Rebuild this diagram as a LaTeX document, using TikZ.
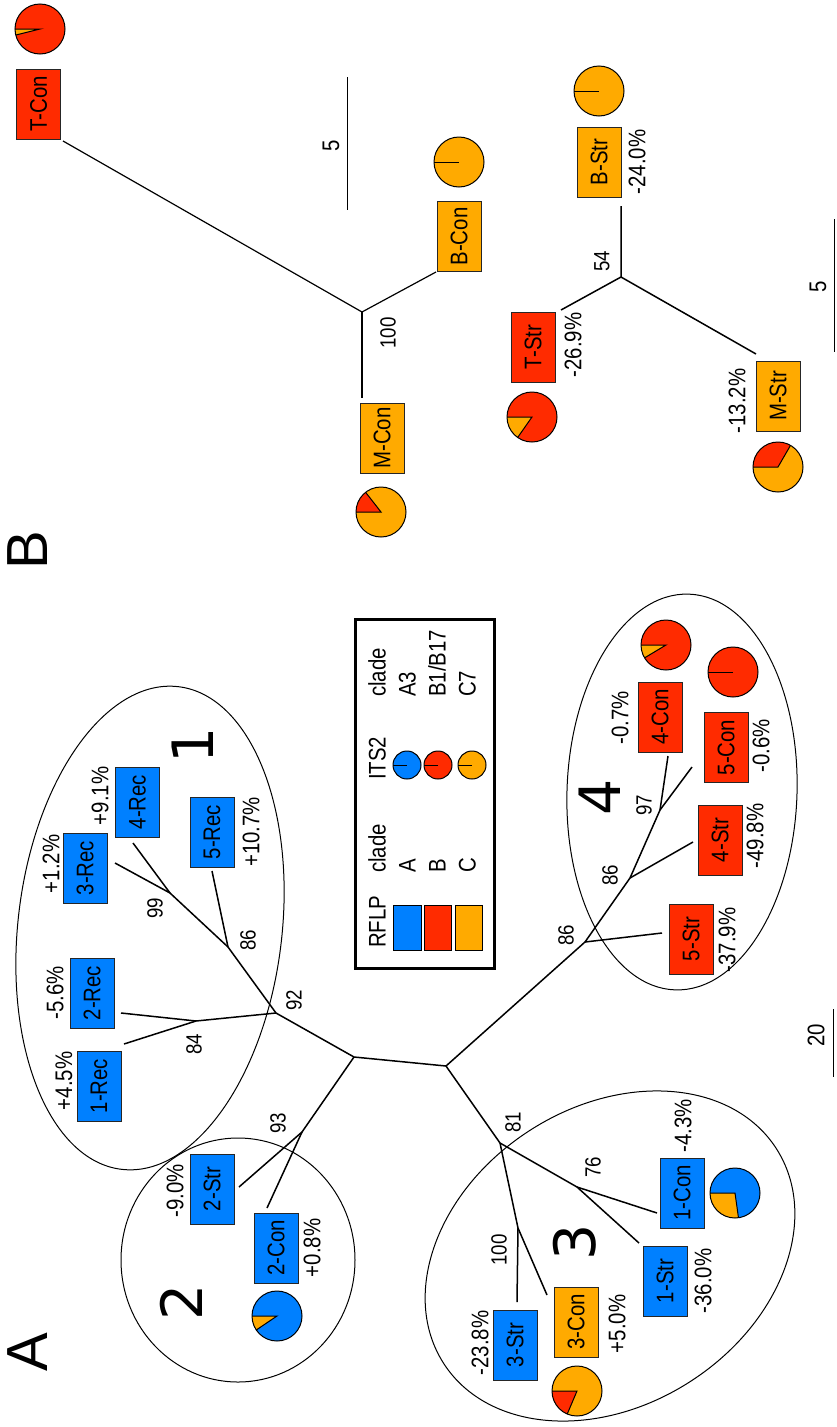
\documentclass[tikz,border=0pt]{standalone}
\usepackage{fontspec}
\setmainfont{Liberation Sans}
\newfontfamily\narrow[FakeStretch=0.85]{Liberation Sans}
\newfontfamily\bigfont{DejaVu Sans}
\definecolor{cA}{RGB}{0,128,255}
\definecolor{cB}{RGB}{255,43,0}
\definecolor{cC}{RGB}{255,170,0}
\tikzset{
  lbl/.style={rotate=90, font=\narrow\fontsize{24}{28}\selectfont, inner sep=0pt},
  boot/.style={rotate=90, font=\narrow\fontsize{22}{26}\selectfont, inner sep=0pt},
  leg/.style={rotate=90, font=\narrow\fontsize{24}{28}\selectfont, inner sep=0pt, anchor=west, text height=17pt, text depth=0pt},
  box/.style={rotate=90, draw=black!85, line width=1pt, minimum width=70pt, minimum height=44pt, inner sep=0pt, font=\narrow\fontsize{24}{28}\selectfont},
  boxA/.style={box, fill=cA},
  boxB/.style={box, fill=cB},
  boxC/.style={box, fill=cC},
  edge/.style={line width=1.5pt},
  grp/.style={line width=1pt},
  big/.style={rotate=90, font=\bigfont\fontsize{57}{60}\selectfont, inner sep=0pt},
  panel/.style={rotate=90, font=\fontsize{58}{60}\selectfont, inner sep=0pt},
}
\newcommand\piechart[5]{%
  \fill[#2] (#1) circle[radius=25pt];
  \fill[#3] (#1) -- ++(#4:25pt) arc[start angle=#4,end angle=#5,radius=25pt] -- cycle;
  \draw[line width=1pt] (#1) ++(#4:25pt) -- (#1) -- ++(#5:25pt);
  \draw[line width=1pt] (#1) circle[radius=25pt];
}
\newcommand\pieone[3]{%
  \fill[#2] (#1) circle[radius=#3];
  \draw[line width=1pt] (#1) -- ++(180:#3);
  \draw[line width=1pt] (#1) circle[radius=#3];
}
\begin{document}
\begin{tikzpicture}[x=1pt,y=-1pt]
\useasboundingbox (0,0) rectangle (836,1427);
\fill[white] (0,0) rectangle (836,1427);

% ---------------- group ellipses ----------------
\draw[grp, shift={(150,928)}, rotate=-6.7] (0,0) ellipse[x radius=132pt, y radius=243pt];
\draw[grp, shift={(238,1260)}] (0,0) ellipse[x radius=117pt, y radius=122pt];
\draw[grp, shift={(610,1256)}, rotate=33] (0,0) ellipse[x radius=198pt, y radius=149pt];
\draw[grp, shift={(682,792)}, rotate=-2] (0,0) ellipse[x radius=115pt, y radius=198pt];

% ---------------- panel A tree coordinates ----------------
\coordinate (n99) at (170,893);
\coordinate (l3R) at (115,863);
\coordinate (l4R) at (133,843);
\coordinate (n86a) at (228,947);
\coordinate (l5R) at (212,871);
\coordinate (n92) at (276,1013);
\coordinate (n84) at (196,1021);
\coordinate (l2R) at (121,1013);
\coordinate (l1R) at (124,1044);
\coordinate (nL) at (354,1057);
\coordinate (nC) at (446,1066);
\coordinate (n93) at (302,1132);
\coordinate (l2S) at (239,1187);
\coordinate (l2C) at (267,1208);
\coordinate (n81) at (500,1143);
\coordinate (n76) at (577,1187);
\coordinate (l1C) at (657,1213);
\coordinate (l1S) at (639,1243);
\coordinate (n100) at (518,1228);
\coordinate (l3C) at (547,1295);
\coordinate (l3S) at (517,1302);
\coordinate (n86b) at (585,942);
\coordinate (l5S) at (662,933);
\coordinate (n86c) at (630,878);
\coordinate (l4S) at (693,842);
\coordinate (n97) at (660,810);
\coordinate (l4C) at (668,756);
\coordinate (l5C) at (692,767);

\draw[edge] (l3R) -- (n99) -- (n86a) -- (n92) -- (nL) -- (nC) -- (n86b) -- (n86c) -- (n97) -- (l4C);
\draw[edge] (l4R) -- (n99);
\draw[edge] (l5R) -- (n86a);
\draw[edge] (l2R) -- (n84) -- (n92);
\draw[edge] (l1R) -- (n84);
\draw[edge] (nL) -- (n93) -- (l2S);
\draw[edge] (n93) -- (l2C);
\draw[edge] (nC) -- (n81) -- (n76) -- (l1C);
\draw[edge] (n76) -- (l1S);
\draw[edge] (n81) -- (n100) -- (l3C);
\draw[edge] (n100) -- (l3S);
\draw[edge] (n86b) -- (l5S);
\draw[edge] (n86c) -- (l4S);
\draw[edge] (n97) -- (l5C);

% bootstrap values
\node[boot] (b99) at (155,908) {99};
\node[boot] (b86a) at (248,940) {86};
\node[boot] (b92) at (294,1000) {92};
\node[boot] (b84) at (194,1044) {84};
\node[boot] (b93) at (278,1123) {93};
\node[boot] (b81) at (513,1122) {81};
\node[boot] (b76) at (593,1167) {76};
\node[boot] (b100) at (499,1250) {100};
\node[boot] (b86b) at (566,935) {86};
\node[boot] (b86c) at (610,875) {86};
\node[boot] (b97) at (644,805) {97};

% boxes group 1
\node[boxA] (R4) at (137.5,802) {4-Rec};
\node[boxA] (R3) at (85,868) {3-Rec};
\node[boxA] (R5) at (212,832) {5-Rec};
\node[boxA] (R2) at (92,993) {2-Rec};
\node[boxA] (R1) at (99,1086) {1-Rec};
\node[lbl] (pR4) at (100,796) {+9.1\%};
\node[lbl] (pR3) at (51,864) {+1.2\%};
\node[lbl] (pR5) at (251,832) {+10.7\%};
\node[lbl] (pR2) at (55,993) {-5.6\%};
\node[lbl] (pR1) at (64,1081) {+4.5\%};

% group 2
\node[boxA] (S2) at (212,1189) {2-Str};
\node[boxA] (C2) at (276,1248) {2-Con};
\node[lbl] (pS2) at (175,1191) {-9.0\%};
\node[lbl] (pC2) at (312,1248) {+0.8\%};
\coordinate (pieC2) at (277,1316);
\piechart{pieC2}{cA}{cC}{180}{214}

% group 3
\node[boxA] (C1) at (682,1193) {1-Con};
\node[boxA] (S1) at (665,1281) {1-Str};
\node[boxC] (C3) at (576,1322) {3-Con};
\node[boxA] (S3) at (515,1345) {3-Str};
\node[lbl] (pC1) at (683,1126) {-4.3\%};
\node[lbl] (pS1) at (703,1281) {-36.0\%};
\node[lbl] (pC3) at (617,1324) {+5.0\%};
\node[lbl] (pS3) at (480,1343) {-23.8\%};
\coordinate (pieC1) at (735,1193);
\piechart{pieC1}{cA}{cC}{180}{278}
\coordinate (pieC3) at (577,1391);
\piechart{pieC3}{cC}{cB}{180}{247}

% group 4
\node[boxB] (C4) at (660,717) {4-Con};
\node[boxB] (C5) at (726,747.5) {5-Con};
\node[boxB] (S4) at (720,840) {4-Str};
\node[boxB] (S5) at (691,939) {5-Str};
\node[lbl] (pC4) at (620,718) {-0.7\%};
\node[lbl] (pC5) at (761,746) {-0.6\%};
\node[lbl] (pS4) at (755,836) {-49.8\%};
\node[lbl] (pS5) at (727,940) {-37.9\%};
\coordinate (pieC4) at (666,645);
\piechart{pieC4}{cB}{cC}{180}{211}
\coordinate (pieC5) at (733,672);
\pieone{pieC5}{cB}{25pt}

% group numbers and panel letters
\node[big] (g1) at (193,745) {1};
\node[big] (g2) at (181,1302) {2};
\node[big] (g3) at (575,1242) {3};
\node[big] (g4) at (600,797) {4};
\node[panel] (pA) at (28,1352) {A};
\node[panel] (pB) at (28,550) {B};

% scale bar A
\coordinate (sA1) at (833,1009);
\coordinate (sA2) at (833,1077);
\draw[grp] (sA1) -- (sA2);
\node[lbl] (sAl) at (816,1035) {20};

% ---------------- legend ----------------
\draw[line width=3pt] (355,619) rectangle (494,968);
\node[leg] (lgR) at (377,948) {RFLP};
\node[leg] (lgc1) at (377,873) {clade};
\node[leg] (lgA) at (407,873) {A};
\node[leg] (lgB) at (437,873) {B};
\node[leg] (lgC) at (467,873) {C};
\node[leg] (lgI) at (377,780) {ITS2};
\node[leg] (lgc2) at (377,697) {clade};
\node[leg] (lgA3) at (407,697) {A3};
\node[leg] (lgB1) at (437,697) {B1/B17};
\node[leg] (lgC7) at (467,697) {C7};
\draw[line width=1pt, fill=cA] (393,905) rectangle (421,950);
\draw[line width=1pt, fill=cB] (424,905) rectangle (451,950);
\draw[line width=1pt, fill=cC] (455,905) rectangle (482,950);
\coordinate (lpA) at (407,765);
\coordinate (lpB) at (438,765);
\coordinate (lpC) at (472,765);
\pieone{lpA}{cA}{14pt}
\pieone{lpB}{cB}{14pt}
\pieone{lpC}{cC}{14pt}

% ---------------- panel B, tree 1 ----------------
\coordinate (m1) at (362,312);
\coordinate (lTC) at (63,141);
\coordinate (lMC) at (362,398);
\coordinate (lBC) at (436,272);
\draw[line width=1.2pt] (lTC) -- (m1) -- (lBC);
\draw[line width=1.2pt] (m1) -- (lMC);
\node[boot] (b100B) at (388,333) {100};
\node[boxB] (TC) at (38.5,104) {T-Con};
\node[boxC] (MC) at (382,438) {M-Con};
\node[boxC] (BC) at (459,236.5) {B-Con};
\coordinate (pieTC) at (40,29);
\piechart{pieTC}{cB}{cC}{180}{194}
\coordinate (pieMC) at (381,512);
\piechart{pieMC}{cC}{cB}{128}{180}
\coordinate (pieBC) at (459,162);
\pieone{pieBC}{cC}{25pt}
\coordinate (sB1) at (347,77);
\coordinate (sB2) at (347,210);
\draw[grp] (sB1) -- (sB2);
\node[lbl] (sB1l) at (331,146) {5};

% ---------------- panel B, tree 2 ----------------
\coordinate (m2) at (621,277);
\coordinate (lBS) at (621,206);
\coordinate (lTS) at (561,310);
\coordinate (lMS) at (756,354);
\draw[edge] (lBS) -- (m2) -- (lTS);
\draw[edge] (m2) -- (lMS);
\node[boot] (b54) at (602,261) {54};
\node[boxC] (BS) at (599,162) {B-Str};
\node[boxB] (TS) at (533,347) {T-Str};
\node[boxC] (MS) at (778,396) {M-Str};
\node[lbl] (pBS) at (637,162) {-24.0\%};
\node[lbl] (pTS) at (573,345) {-26.9\%};
\node[lbl] (pMS) at (737,401) {-13.2\%};
\coordinate (pieBS) at (599,91);
\pieone{pieBS}{cC}{25pt}
\coordinate (pieTS) at (532,417);
\piechart{pieTS}{cB}{cC}{180}{235}
\coordinate (pieMS) at (778,467);
\piechart{pieMS}{cC}{cB}{60}{180}
\coordinate (sC1) at (834,219);
\coordinate (sC2) at (834,352);
\draw[grp] (sC1) -- (sC2);
\node[lbl] (sCl) at (818,287) {5};
\end{tikzpicture}
\end{document}
